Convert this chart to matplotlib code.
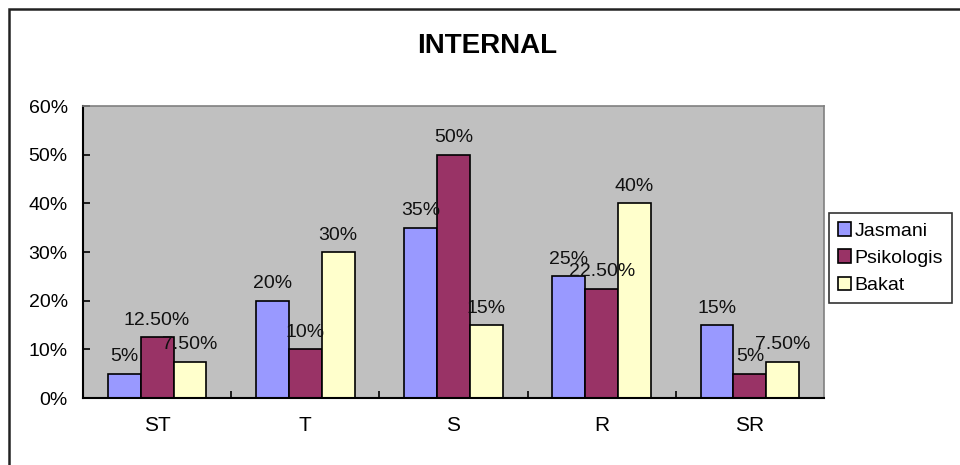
import matplotlib
matplotlib.use('Agg')
import matplotlib.pyplot as plt
from matplotlib.patches import Rectangle
from matplotlib.ticker import FuncFormatter
import numpy as np

plt.rcParams['font.family'] = ['Liberation Sans', 'DejaVu Sans']

# data
categories = ['ST', 'T', 'S', 'R', 'SR']
series_names = ['Jasmani', 'Psikologis', 'Bakat']
jasmani = [0.05, 0.20, 0.35, 0.25, 0.15]
psikologis = [0.125, 0.10, 0.50, 0.225, 0.05]
bakat = [0.075, 0.30, 0.15, 0.40, 0.075]
colors = ['#9999FF', '#993366', '#FFFFCC']


def pct_label(v):
    p = v * 100
    if abs(p - round(p)) < 1e-9:
        return f'{int(round(p))}%'
    return f'{p:.2f}%'


fig = plt.figure(figsize=(9.6, 4.65), dpi=100)
ax = fig.add_axes([83 / 960, 1 - 398 / 465, (824 - 83) / 960, (398 - 106) / 465])
ax.set_facecolor('#C0C0C0')

x = np.arange(len(categories))
width = 0.222
for i, (vals, name) in enumerate(zip([jasmani, psikologis, bakat], series_names)):
    pos = x + (i - 1) * width
    bars = ax.bar(pos, vals, width, color=colors[i], edgecolor='black',
                  linewidth=1.2, label=name, zorder=2)
    for b, v in zip(bars, vals):
        ax.annotate(pct_label(v), (b.get_x() + b.get_width() / 2, v),
                    xytext=(0, 6), textcoords='offset points',
                    ha='center', va='bottom', fontsize=14, color='#111111')

ax.set_xlim(-0.5, len(categories) - 0.5)
ax.set_ylim(0, 0.6)
ax.set_yticks(np.arange(0, 0.61, 0.1))
ax.yaxis.set_major_formatter(FuncFormatter(lambda v, p: f'{int(round(v * 100))}%'))
ax.set_xticks(x)
ax.set_xticklabels(categories)
ax.set_xticks(np.arange(0.5, len(categories) - 0.5, 1), minor=True)
ax.tick_params(axis='x', which='major', length=0, pad=13, labelsize=15)
ax.tick_params(axis='x', which='minor', direction='in', length=5, width=1.2)
ax.tick_params(axis='y', direction='in', length=5, width=1.2, pad=11, labelsize=14)

for side in ['left', 'bottom']:
    ax.spines[side].set_color('black')
    ax.spines[side].set_linewidth(1.5)
for side in ['top', 'right']:
    ax.spines[side].set_color('#808080')
    ax.spines[side].set_linewidth(1.2)

fig.text(487 / 960, 1 - 46 / 465, 'INTERNAL', ha='center', va='center',
         fontsize=20, fontweight='bold')

leg = fig.legend(loc='lower left', bbox_to_anchor=(829 / 960, 1 - 303 / 465),
                 fontsize=14, frameon=True, fancybox=False, edgecolor='black',
                 handlelength=0.7, handleheight=0.7, handletextpad=0.15,
                 borderpad=0.45, labelspacing=0.5, borderaxespad=0)
leg.get_frame().set_linewidth(1.2)

# outer chart border (only left and top visible in the picture)
fig.patches.append(Rectangle((9 / 960, -0.1), 1.2, 1.1 - 9 / 465, transform=fig.transFigure,
                             fill=False, edgecolor='#222222', linewidth=1.8))

fig.savefig('out.png', dpi=100)
